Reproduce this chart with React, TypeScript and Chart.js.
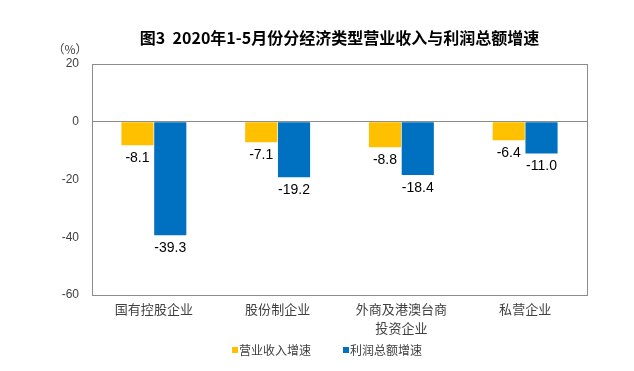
import React, { useEffect, useRef } from "react";
import { Chart, registerables } from "chart.js";

Chart.register(...registerables);

const title = "图3  2020年1-5月份分经济类型营业收入与利润总额增速";
const unitLabel = "（%）";
const categories: (string | string[])[] = ["国有控股企业", "股份制企业", ["外商及港澳台商", "投资企业"], "私营企业"];
const seriesNames = ["营业收入增速", "利润总额增速"];
const revenueGrowth = [-8.1, -7.1, -8.8, -6.4];
const profitGrowth = [-39.3, -19.2, -18.4, -11.0];
const colors = ["#FFC000", "#0070C0"];
const yMin = -60;
const yMax = 20;
const yStep = 20;

const CJK = "'Liberation Sans', 'Noto Sans CJK SC', sans-serif";

const overlay = {
  id: "overlay",
  afterDraw(chart: any) {
    const { ctx, chartArea } = chart;
    ctx.save();
    // plot border
    ctx.strokeStyle = "#8c8c8c";
    ctx.lineWidth = 1;
    ctx.strokeRect(
      Math.round(chartArea.left) + 0.5,
      Math.round(chartArea.top) + 0.5,
      Math.round(chartArea.right - chartArea.left),
      Math.round(chartArea.bottom - chartArea.top)
    );
    // title
    ctx.fillStyle = "#000";
    ctx.font = "bold 16px 'Noto Sans CJK SC', sans-serif";
    ctx.textAlign = "center";
    ctx.textBaseline = "middle";
    ctx.fillText(title, (chartArea.left + chartArea.right) / 2, 30);
    // unit
    ctx.fillStyle = "#404040";
    ctx.font = "12px 'Noto Sans CJK SC', sans-serif";
    ctx.fillText(unitLabel, 62, 41);
    // data labels
    ctx.fillStyle = "#000";
    ctx.font = "14px 'Liberation Sans', Arial, sans-serif";
    chart.data.datasets.forEach((ds: any, di: number) => {
      const meta = chart.getDatasetMeta(di);
      meta.data.forEach((bar: any, i: number) => {
        const v = ds.data[i];
        ctx.fillText(v.toFixed(1), bar.x, bar.y + 13);
      });
    });
    // legend
    ctx.font = "12px 'Noto Sans CJK SC', sans-serif";
    ctx.textAlign = "left";
    const lx = [224, 335];
    const ly = 342;
    seriesNames.forEach((n, i) => {
      ctx.fillStyle = colors[i];
      ctx.fillRect(lx[i], ly - 3, 6, 6);
      ctx.fillStyle = "#404040";
      ctx.fillText(n, lx[i] + 7, ly);
    });
    ctx.restore();
  },
};

export default function App() {
  const ref = useRef<HTMLCanvasElement>(null);
  useEffect(() => {
    if (!ref.current) return;
    const chart = new Chart(ref.current, {
      type: "bar",
      data: {
        labels: categories,
        datasets: [
          { label: seriesNames[0], data: revenueGrowth, backgroundColor: colors[0] },
          { label: seriesNames[1], data: profitGrowth, backgroundColor: colors[1] },
        ],
      },
      options: {
        animation: false,
        responsive: false,
        layout: { padding: { top: 56, right: 39, left: 0, bottom: 0 } },
        plugins: { legend: { display: false }, title: { display: false }, tooltip: { enabled: false } },
        datasets: { bar: { categoryPercentage: 0.53, barPercentage: 0.98 } },
        scales: {
          x: {
            grid: { display: false, drawTicks: false },
            border: { display: false },
            ticks: {
              padding: 4,
              color: "#404040",
              font: { size: 13, family: "'Noto Sans CJK SC', sans-serif", lineHeight: 1.5 },
              maxRotation: 0,
              autoSkip: false,
            },
            afterFit(scale: any) {
              scale.height = 68;
            },
          },
          y: {
            min: yMin,
            max: yMax,
            grid: {
              drawTicks: false,
              color: (c: any) => (c.tick && c.tick.value === 0 ? "#8c8c8c" : "rgba(0,0,0,0)"),
            },
            border: { display: false },
            ticks: {
              stepSize: yStep,
              padding: 13,
              color: "#404040",
              font: { size: 12, family: CJK },
            },
            afterFit(scale: any) {
              scale.width = 84;
            },
          },
        },
      },
      plugins: [overlay],
    });
    return () => chart.destroy();
  }, []);
  return (
    <div style={{ width: 618, height: 355 }}>
      <canvas ref={ref} width={618} height={355} style={{ display: "block" }} />
    </div>
  );
}
